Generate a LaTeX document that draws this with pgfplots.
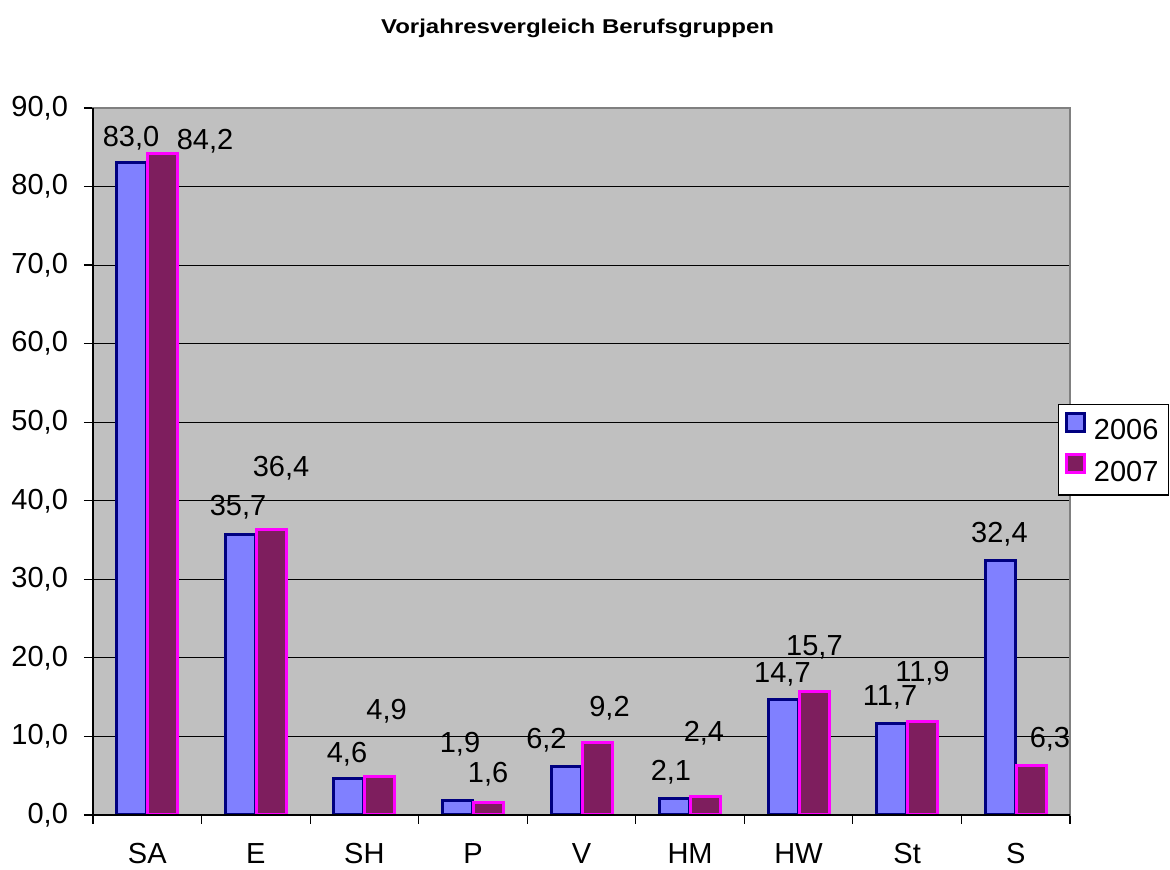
\documentclass[border=0pt]{standalone}
\usepackage{fontspec}
\setmainfont{Liberation Sans}
\newfontfamily\titlefont{Liberation Sans}[FakeStretch=1.2]
\usepackage{pgfplots}
\usepackage{pgfplotstable}
\pgfplotsset{compat=1.18}
\definecolor{bluefill}{RGB}{128,128,255}
\definecolor{blueedge}{RGB}{0,0,128}
\definecolor{plumfill}{RGB}{126,30,94}
\definecolor{plumedge}{RGB}{255,0,255}
\definecolor{plotbg}{RGB}{192,192,192}

\pgfplotstableread{
x y
0 83.0
1 35.7
2 4.6
3 1.9
4 6.2
5 2.1
6 14.7
7 11.7
8 32.4
}\dataA

\pgfplotstableread{
x y
0 84.2
1 36.4
2 4.9
3 1.6
4 9.2
5 2.4
6 15.7
7 11.9
8 6.3
}\dataB

\pgfplotstableread{
x y label
-0.150 85.03 83,0
0.836 38.06 35,7
1.840 6.62 4,6
2.881 7.89 1,9
3.677 8.40 6,2
4.824 4.33 2,1
5.851 16.80 14,7
6.842 13.87 11,7
7.850 34.62 32,4
}\labA

\pgfplotstableread{
x y label
0.532 84.65 84,2
1.232 43.02 36,4
2.204 12.09 4,9
3.139 4.07 1,6
4.258 12.47 9,2
5.128 9.29 2,4
6.146 20.24 15,7
7.141 16.93 11,9
8.315 8.53 6,3
}\labB

\begin{document}
\begin{tikzpicture}
\path[use as bounding box] (0,0) rectangle (585pt,435pt);
\begin{axis}[
  at={(46.5pt,27.5pt)}, anchor=south west,
  scale only axis, width=488.5pt, height=353.5pt,
  clip=false,
  xmin=-0.5, xmax=8.5, ymin=0, ymax=90,
  xtick={-0.5,0.5,...,8.5}, xticklabels={},
  extra x ticks={0,1,2,3,4,5,6,7,8},
  extra x tick labels={SA,E,SH,P,V,HM,HW,St,S},
  extra x tick style={major tick length=0pt, tick style={draw=none}, tick label style={yshift=-10.5pt}},
  ytick={0,10,...,90},
  tick pos=left, tick align=outside,
  major tick length=4.5pt,
  tick style={black, line width=0.6pt},
  ymajorgrids, grid style={black, line width=0.5pt},
  axis line style={draw=black!50, line width=0.6pt},
  axis background/.style={fill=plotbg},
  tick label style={font=\fontsize{14.5}{17}\selectfont},
  /pgf/number format/assume math mode=true,
  y tick label style={/pgf/number format/fixed, /pgf/number format/fixed zerofill, /pgf/number format/precision=1, /pgf/number format/use comma, xshift=-4.5pt},
  title={\titlefont\bfseries Vorjahresvergleich Berufsgruppen},
  title style={at={(0.496,1)}, anchor=base, yshift=31pt, font=\fontsize{10}{12}\selectfont},
  legend style={at={(0.988,0.581)}, anchor=north west, draw=black, fill=white, line width=0.6pt,
    font=\fontsize{14.5}{17}\selectfont, inner xsep=3pt, inner ysep=3.5pt, row sep=3pt,
    /tikz/every odd column/.append style={column sep=2pt}},
  legend cell align=left,
]
\addplot[ybar, bar width=15pt, bar shift=-7.75pt, fill=bluefill, draw=blueedge, line width=1.5pt,
  legend image code/.code={\draw[fill=bluefill, draw=blueedge, line width=1.5pt] (0pt,0pt) rectangle (9pt,9pt);}]
  table[x=x, y=y] {\dataA};
\addlegendentry{2006}
\addplot[ybar, bar width=15pt, bar shift=7.75pt, fill=plumfill, draw=plumedge, line width=1.5pt,
  legend image code/.code={\draw[fill=plumfill, draw=plumedge, line width=1.5pt] (0pt,0pt) rectangle (9pt,9pt);}]
  table[x=x, y=y] {\dataB};
\addlegendentry{2007}
\addplot[draw=none, forget plot, nodes near coords, point meta=explicit symbolic,
  every node near coord/.append style={inner sep=0pt, text depth=0pt, font=\fontsize{14.5}{17}\selectfont}]
  table[x=x, y=y, meta=label] {\labA};
\addplot[draw=none, forget plot, nodes near coords, point meta=explicit symbolic,
  every node near coord/.append style={inner sep=0pt, text depth=0pt, font=\fontsize{14.5}{17}\selectfont}]
  table[x=x, y=y, meta=label] {\labB};
\draw[black, line width=0.8pt] (rel axis cs:0,1) -- (rel axis cs:0,0) -- (rel axis cs:1,0);
\end{axis}
\end{tikzpicture}
\end{document}
